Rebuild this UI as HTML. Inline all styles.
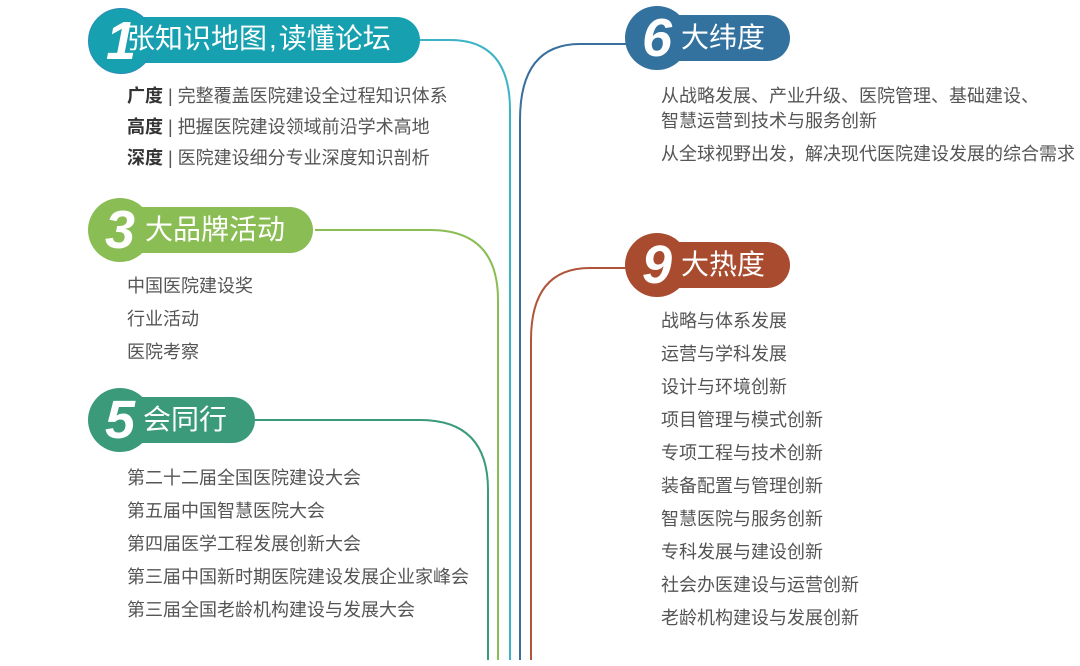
<!DOCTYPE html>
<html><head><meta charset="utf-8"><style>
body{margin:0;width:1080px;height:666px;background:#fff;position:relative;overflow:hidden;font-family:"Liberation Sans","Noto Sans CJK SC",sans-serif;}
.t{position:absolute;font-size:18px;color:#555;white-space:nowrap;line-height:20px;}
.t b{color:#333;}
.num{position:absolute;color:#fff;font-style:italic;font-weight:bold;font-size:54px;text-align:center;border-radius:50%;}
.lab{position:absolute;color:#fff;font-size:28px;line-height:46px;white-space:nowrap;}
</style></head><body>
<svg width="1080" height="666" style="position:absolute;left:0;top:0">
<g fill="none" stroke-width="2">
<path d="M420 40 H450 Q510 40 510 110 V660" stroke="#3fb3c6"/>
<path d="M315 230 H430 Q498 230 498 300 V660" stroke="#8bbd55"/>
<path d="M255 420 H420 Q488 420 488 490 V660" stroke="#3a9a7a"/>
<path d="M630 44 H580 Q520 44 520 120 V660" stroke="#3a6f9c"/>
<path d="M630 268 H590 Q531 268 531 340 V660" stroke="#b0553a"/>
</g>
</svg>
<!-- 1 -->
<div style="position:absolute;left:112px;top:17px;width:308px;height:46px;border-radius:23px;background:#17a0b0"></div>
<div class="num" style="left:88px;top:8px;width:64px;height:64px;background:#17a0b0;border:1px solid #2a8db8;line-height:64px">1</div>
<div class="lab" style="left:127px;top:16px">张知识地图<span style="margin:0 2px">,</span>读懂论坛</div>
<div class="t" style="left:127px;top:86px"><b>广度</b> | 完整覆盖医院建设全过程知识体系</div>
<div class="t" style="left:127px;top:117px"><b>高度</b> | 把握医院建设领域前沿学术高地</div>
<div class="t" style="left:127px;top:148px"><b>深度</b> | 医院建设细分专业深度知识剖析</div>
<!-- 3 -->
<div style="position:absolute;left:112px;top:207px;width:201px;height:46px;border-radius:23px;background:#8bbd55"></div>
<div class="num" style="left:88px;top:198px;width:64px;height:64px;background:#8bbd55;line-height:64px">3</div>
<div class="lab" style="left:145px;top:207px">大品牌活动</div>
<div class="t" style="left:127px;top:276px">中国医院建设奖</div>
<div class="t" style="left:127px;top:309px">行业活动</div>
<div class="t" style="left:127px;top:342px">医院考察</div>
<!-- 5 -->
<div style="position:absolute;left:112px;top:397px;width:143px;height:46px;border-radius:23px;background:#3a9a7a"></div>
<div class="num" style="left:88px;top:388px;width:64px;height:64px;background:#3a9a7a;line-height:64px">5</div>
<div class="lab" style="left:143px;top:397px">会同行</div>
<div class="t" style="left:127px;top:468px">第二十二届全国医院建设大会</div>
<div class="t" style="left:127px;top:501px">第五届中国智慧医院大会</div>
<div class="t" style="left:127px;top:534px">第四届医学工程发展创新大会</div>
<div class="t" style="left:127px;top:567px">第三届中国新时期医院建设发展企业家峰会</div>
<div class="t" style="left:127px;top:600px">第三届全国老龄机构建设与发展大会</div>
<!-- 6 -->
<div style="position:absolute;left:640px;top:15px;width:150px;height:46px;border-radius:23px;background:#33719f"></div>
<div class="num" style="left:625px;top:6px;width:64px;height:64px;background:#33719f;line-height:64px">6</div>
<div class="lab" style="left:681px;top:15px">大纬度</div>
<div class="t" style="left:661px;top:86px">从战略发展、产业升级、医院管理、基础建设、</div>
<div class="t" style="left:661px;top:111px">智慧运营到技术与服务创新</div>
<div class="t" style="left:661px;top:144px">从全球视野出发，解决现代医院建设发展的综合需求</div>
<!-- 9 -->
<div style="position:absolute;left:640px;top:242px;width:150px;height:46px;border-radius:23px;background:#a94b2f"></div>
<div class="num" style="left:625px;top:233px;width:64px;height:64px;background:#a94b2f;line-height:64px">9</div>
<div class="lab" style="left:681px;top:242px">大热度</div>
<div class="t" style="left:661px;top:311px">战略与体系发展</div>
<div class="t" style="left:661px;top:344px">运营与学科发展</div>
<div class="t" style="left:661px;top:377px">设计与环境创新</div>
<div class="t" style="left:661px;top:410px">项目管理与模式创新</div>
<div class="t" style="left:661px;top:443px">专项工程与技术创新</div>
<div class="t" style="left:661px;top:476px">装备配置与管理创新</div>
<div class="t" style="left:661px;top:509px">智慧医院与服务创新</div>
<div class="t" style="left:661px;top:542px">专科发展与建设创新</div>
<div class="t" style="left:661px;top:575px">社会办医建设与运营创新</div>
<div class="t" style="left:661px;top:608px">老龄机构建设与发展创新</div>
</body></html>
